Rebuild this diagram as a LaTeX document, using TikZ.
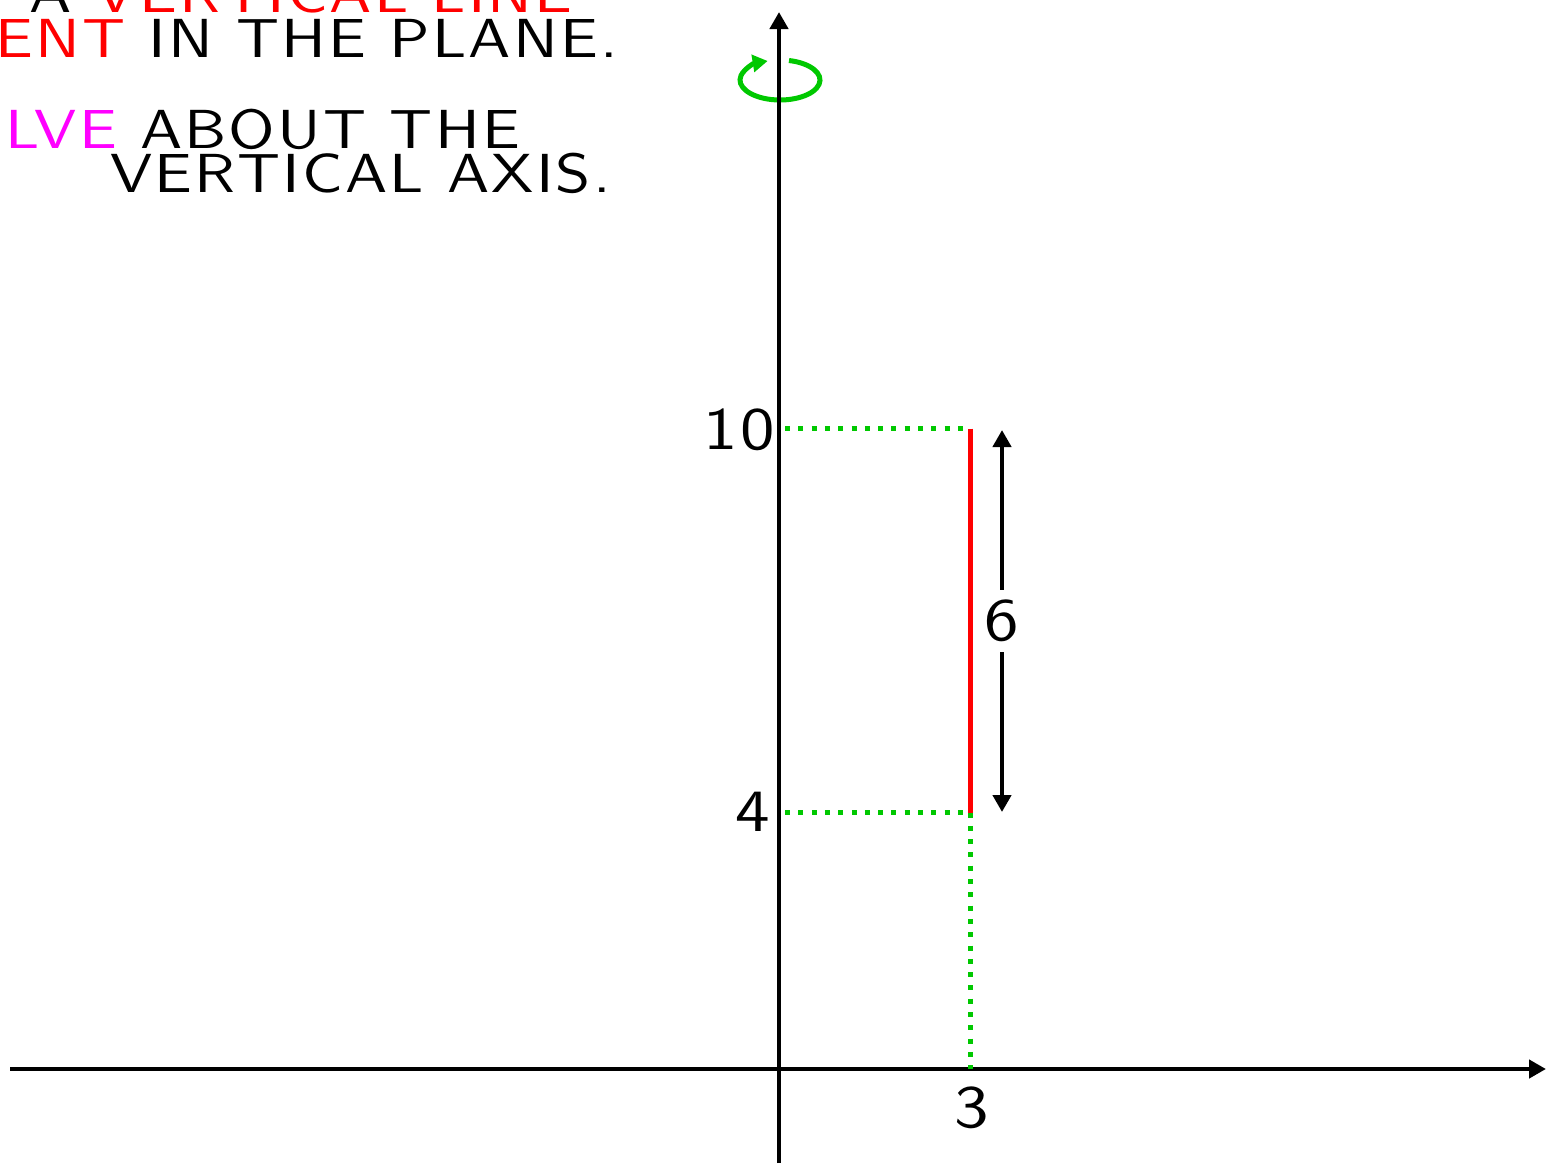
\documentclass[tikz,border=0pt]{standalone}
\usepackage{fontspec}
\setsansfont{lmsans10-regular.otf}[LetterSpace=4,FakeStretch=1.15]
\usetikzlibrary{arrows.meta}
\definecolor{grn}{RGB}{0,200,0}
\definecolor{mag}{RGB}{255,0,255}
\definecolor{rd}{RGB}{255,0,0}
\tikzset{
  axis/.style={line width=4.5pt, -{Triangle[length=17pt,width=18pt]}},
  guide/.style={grn, line width=5pt, dash pattern=on 5pt off 8.3pt},
  txt/.style={inner sep=0pt, anchor=base east, font=\sffamily\fontsize{55}{66}\selectfont},
  num/.style={inner sep=0pt, font=\sffamily\fontsize{60}{72}\selectfont},
  dim/.style={line width=4.5pt, {Triangle[length=17pt,width=18pt]}-{Triangle[length=17pt,width=18pt]}}
}
\begin{document}
\begin{tikzpicture}[x=1pt,y=-1pt]
\useasboundingbox (0,0) rectangle (1547,1168);
\clip (0,0) rectangle (1547,1168);
% text
\node[txt] (l1) at (573,12) {{\color{mag}GIVEN} A {\color{rd}VERTICAL LINE}};
\node[txt] (l2) at (618,57) {{\color{rd}SEGMENT} IN THE PLANE.};
\node[txt] (l4) at (520,148) {{\color{mag}REVOLVE} ABOUT THE};
\node[txt] (l5) at (611,192) {VERTICAL AXIS.};
% coordinates
\coordinate (O) at (779,1069);
\coordinate (xl) at (10,1069);
\coordinate (xr) at (1546,1069);
\coordinate (yb) at (779,1163);
\coordinate (yt) at (779,12);
\coordinate (top) at (970,428.5);
\coordinate (bot) at (970,812.5);
\coordinate (base) at (970,1069);
\coordinate (ytop) at (785,428.5);
\coordinate (ybot) at (785,812.5);
\coordinate (at) at (1002,430);
\coordinate (ab) at (1002,812);
\coordinate (rc) at (780,80);
% rotation
\draw[grn, line width=5pt, -{Triangle[length=15pt,width=17pt]}] (rc) ++(77:40pt and 20pt) arc[start angle=77, end angle=-252, x radius=40pt, y radius=20pt];
% axes
\draw[axis] (xl) -- (xr);
\draw[axis] (yb) -- (yt);
% guides
\draw[guide] (ytop) -- (top);
\draw[guide] (ybot) -- (bot);
\draw[guide] (bot) -- (base);
% segment
\draw[rd, line width=5pt] (top) -- (bot);
% dimension
\draw[dim] (at) -- node[num, fill=white, inner xsep=2pt, inner ysep=10pt] (six) {6} (ab);
% labels
\node[num, anchor=east] (t10) at (775,430) {10};
\node[num, anchor=east] (t4) at (770,812) {4};
\node[num] (t3) at (972,1108) {3};
\end{tikzpicture}
\end{document}
